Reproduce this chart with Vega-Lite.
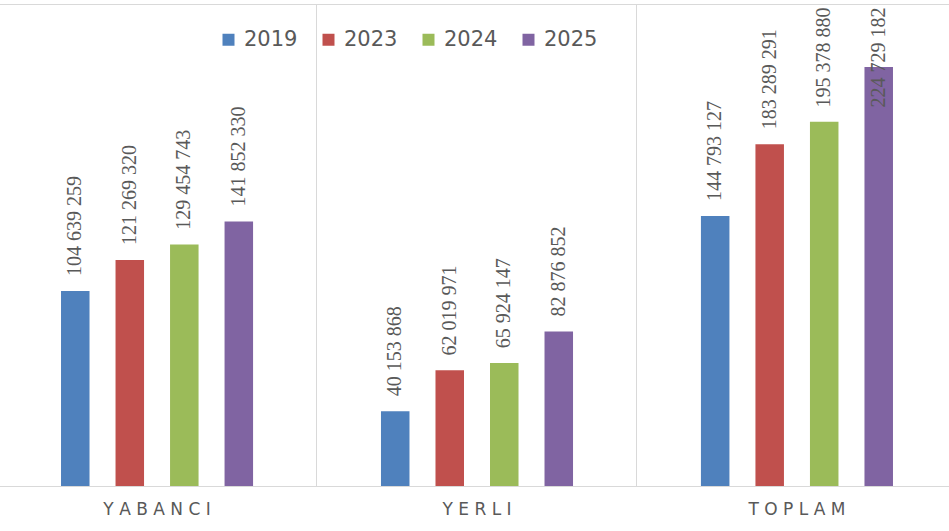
{
  "$schema": "https://vega.github.io/schema/vega-lite/v6.json",
  "width": 954,
  "height": 482,
  "autosize": {"type": "none"},
  "padding": {"left": 0, "top": 4, "right": 0, "bottom": 45},
  "background": "white",
  "config": {"view": {"stroke": null}, "font": "DejaVu Sans"},
  "data": {
    "values": [
      {"category": "YABANCI", "year": "2019", "value": 104639259, "label": "104 639 259"},
      {"category": "YABANCI", "year": "2023", "value": 121269320, "label": "121 269 320"},
      {"category": "YABANCI", "year": "2024", "value": 129454743, "label": "129 454 743"},
      {"category": "YABANCI", "year": "2025", "value": 141852330, "label": "141 852 330"},
      {"category": "YERLI", "year": "2019", "value": 40153868, "label": "40 153 868"},
      {"category": "YERLI", "year": "2023", "value": 62019971, "label": "62 019 971"},
      {"category": "YERLI", "year": "2024", "value": 65924147, "label": "65 924 147"},
      {"category": "YERLI", "year": "2025", "value": 82876852, "label": "82 876 852"},
      {"category": "TOPLAM", "year": "2019", "value": 144793127, "label": "144 793 127"},
      {"category": "TOPLAM", "year": "2023", "value": 183289291, "label": "183 289 291"},
      {"category": "TOPLAM", "year": "2024", "value": 195378880, "label": "195 378 880"},
      {"category": "TOPLAM", "year": "2025", "value": 224729182, "label": "224 729 182"}
    ]
  },
  "transform": [
    {"calculate": "min(datum.value + 8000000, 203000000)", "as": "labelPos"}
  ],
  "encoding": {
    "x": {
      "field": "category",
      "type": "nominal",
      "sort": ["YABANCI", "YERLI", "TOPLAM"],
      "scale": {"range": [-3, 957], "paddingInner": 0.059, "paddingOuter": 0.0297},
      "axis": {
        "title": null,
        "bandPosition": -0.0316,
        "grid": true,
        "gridColor": "#d9d9d9",
        "gridOpacity": {"condition": {"test": "datum.value === 'YABANCI'", "value": 0}, "value": 1},
        "domain": false,
        "ticks": false,
        "labelAngle": 0,
        "labelExpr": "join(split(datum.label, ''), ' ')",
        "labelFont": "DejaVu Sans",
        "labelFontSize": 17,
        "labelColor": "#595959",
        "labelPadding": 15
      }
    },
    "xOffset": {
      "field": "year",
      "type": "nominal",
      "scale": {"paddingInner": 0.477, "paddingOuter": 1}
    }
  },
  "layer": [
    {
      "mark": {"type": "bar"},
      "encoding": {
        "y": {
          "field": "value",
          "type": "quantitative",
          "scale": {"domain": [0, 258500000], "nice": false},
          "axis": {
            "values": [0, 258500000],
            "grid": true,
            "gridColor": "#d9d9d9",
            "labels": false,
            "ticks": false,
            "domain": false,
            "title": null
          }
        },
        "color": {
          "field": "year",
          "type": "nominal",
          "scale": {
            "domain": ["2019", "2023", "2024", "2025"],
            "range": ["#4F81BD", "#C0504D", "#9BBB59", "#8064A2"]
          },
          "legend": {
            "title": null,
            "orient": "none",
            "direction": "horizontal",
            "legendX": 218,
            "legendY": 25,
            "symbolType": "square",
            "symbolSize": 144,
            "symbolStrokeWidth": 0,
            "labelFont": "DejaVu Sans",
            "labelFontSize": 21,
            "labelColor": "#595959",
            "labelOffset": 5,
            "columnPadding": 20
          }
        }
      }
    },
    {
      "mark": {
        "type": "text",
        "angle": -90,
        "align": "left",
        "baseline": "middle",
        "font": "Liberation Sans Narrow",
        "fontSize": 20,
        "color": "#595959"
      },
      "encoding": {
        "y": {"field": "labelPos", "type": "quantitative"},
        "text": {"field": "label"}
      }
    }
  ]
}
